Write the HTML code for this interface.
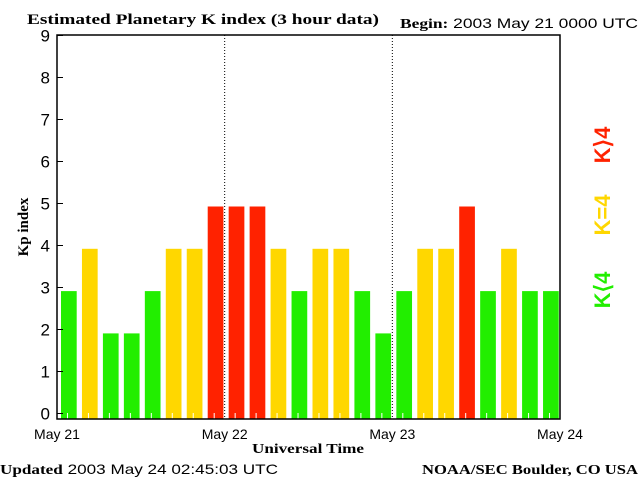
<!DOCTYPE html>
<html><head><meta charset="utf-8"><style>
body{margin:0;background:#fff;width:640px;height:480px;overflow:hidden}
svg text{font-family:"Liberation Sans",sans-serif}
.serif{font-family:"Liberation Serif",serif;font-weight:bold}
</style></head><body>
<svg id="chart" width="640" height="480" xmlns="http://www.w3.org/2000/svg">
<text class="serif" x="27" y="24" font-size="15" textLength="352" lengthAdjust="spacingAndGlyphs">Estimated Planetary K index (3 hour data)</text>
<text x="400" y="28" font-size="14" textLength="238" lengthAdjust="spacingAndGlyphs"><tspan class="serif">Begin:</tspan>  2003 May 21 0000 UTC</text>
<text x="0" y="474" font-size="14" textLength="278" lengthAdjust="spacingAndGlyphs"><tspan class="serif">Updated</tspan> 2003 May 24 02:45:03 UTC</text>
<text class="serif" x="422" y="474" font-size="14" textLength="216" lengthAdjust="spacingAndGlyphs">NOAA/SEC Boulder, CO USA</text>
<text class="serif" x="308" y="453" font-size="14" textLength="112" lengthAdjust="spacingAndGlyphs" text-anchor="middle">Universal Time</text>
<text class="serif" transform="translate(28,227) rotate(-90)" font-size="15" text-anchor="middle">Kp index</text>
<text transform="translate(610,290) rotate(-90)" font-size="22" font-weight="bold" fill="#22ee00" text-anchor="middle">K⟨4</text>
<text transform="translate(610,215) rotate(-90)" font-size="22" font-weight="bold" fill="#ffd700" text-anchor="middle">K=4</text>
<text transform="translate(610,145) rotate(-90)" font-size="22" font-weight="bold" fill="#ff2200" text-anchor="middle">K⟩4</text>
<g id="plot"></g>
</svg>
<script>
const categories=["May21-00","03","06","09","12","15","18","21","May22-00","03","06","09","12","15","18","21","May23-00","03","06","09","12","15","18","21"];
const kpValues=[3,4,2,2,3,4,4,5,5,5,4,3,4,4,3,2,3,4,4,5,3,4,3,3];
const yTicks=[0,1,2,3,4,5,6,7,8,9];
const dayLabels=["May 21","May 22","May 23","May 24"];
const NS="http://www.w3.org/2000/svg";
const L=57,R=560,T=35,B=419;
const xs=i=>L+(R-L)*i/categories.length;
const yTick=v=>413.5-42*v;
const yBar=v=>418-42.3*v;
const g=document.getElementById('plot');
function mk(t,a){const e=document.createElementNS(NS,t);for(const k in a)e.setAttribute(k,a[k]);g.appendChild(e);return e;}
const slot=(R-L)/categories.length;
kpValues.forEach((v,i)=>{
 const c=v<4?"#22ee00":(v==4?"#ffd700":"#ff2200");
 const r=mk('rect',{x:xs(i)+4,y:yBar(v),width:15.7,height:B-yBar(v),fill:c});
 
 
 const t=mk('line',{x1:xs(i)+slot/2,x2:xs(i)+slot/2,y1:B,y2:B-6,stroke:'#fff','stroke-width':1});
 
 
});
for(let d=1;d<dayLabels.length-1;d++){
 const x=L+(R-L)*d/(dayLabels.length-1);
 const l=mk('line',{x1:x,x2:x,y1:T,y2:B,stroke:'#000','stroke-dasharray':'1,2'});
 
 
}
const f=mk('rect',{x:L,y:T,width:R-L,height:B-T,fill:'none',stroke:'#000','stroke-width':1.5});


yTicks.forEach(v=>{
 const y=yTick(v);
 const l=mk('line',{x1:L,x2:L+6,y1:y,y2:y,stroke:'#000'});
 
 
 const t=mk('text',{x:50,y:y+6,'font-size':17,'text-anchor':'end'});
 t.textContent=v;
 
 
});
dayLabels.forEach((d,i)=>{
 const x=L+(R-L)*i/(dayLabels.length-1);
 const t=mk('text',{x:x,y:439,'font-size':14,'text-anchor':'middle'});
 t.textContent=d;
 
 
});
</script>
</body></html>
